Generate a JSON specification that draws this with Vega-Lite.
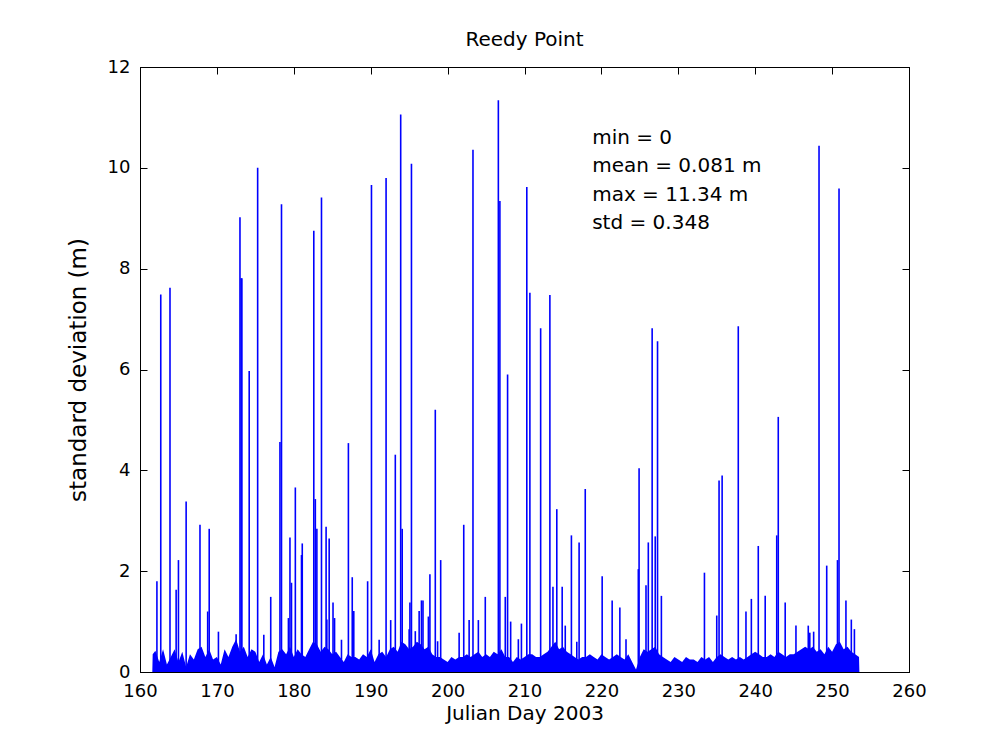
{
  "$schema": "https://vega.github.io/schema/vega-lite/v6.json",
  "width": 769,
  "height": 605,
  "autosize": "none",
  "padding": {"left": 140, "top": 67, "right": 88, "bottom": 80},
  "background": "white",
  "title": {"text": "Reedy Point", "font": "DejaVu Sans", "fontSize": 20, "fontWeight": "normal", "color": "black", "offset": 8},
  "config": {
    "view": {"stroke": "black", "strokeWidth": 1},
    "axis": {
      "domainColor": "black", "tickColor": "black", "labelColor": "black", "titleColor": "black",
      "labelFont": "DejaVu Sans", "titleFont": "DejaVu Sans", "labelFontSize": 18, "titleFontSize": 20,
      "titleFontWeight": "normal", "grid": false, "tickSize": -7, "labelPadding": 17, "labelFlush": false
    }
  },
  "datasets": {
    "base": [
      {"day": 161.6, "sd": 0.0}, {"day": 161.65, "sd": 0.35},
      {"day": 162.0, "sd": 0.42}, {"day": 162.5, "sd": 0.2}, {"day": 163.0, "sd": 0.45}, {"day": 163.5, "sd": 0.15},
      {"day": 164.0, "sd": 0.3}, {"day": 164.5, "sd": 0.45}, {"day": 165.0, "sd": 0.2}, {"day": 165.5, "sd": 0.4},
      {"day": 166.0, "sd": 0.1}, {"day": 166.5, "sd": 0.35}, {"day": 167.0, "sd": 0.25}, {"day": 167.5, "sd": 0.45},
      {"day": 168.0, "sd": 0.5}, {"day": 168.5, "sd": 0.3}, {"day": 169.0, "sd": 0.45}, {"day": 169.5, "sd": 0.25},
      {"day": 170.0, "sd": 0.3}, {"day": 170.5, "sd": 0.15}, {"day": 171.0, "sd": 0.45}, {"day": 171.5, "sd": 0.3},
      {"day": 172.0, "sd": 0.5}, {"day": 172.5, "sd": 0.65}, {"day": 173.0, "sd": 0.4}, {"day": 173.5, "sd": 0.5},
      {"day": 174.0, "sd": 0.3}, {"day": 174.5, "sd": 0.45}, {"day": 175.0, "sd": 0.4}, {"day": 175.5, "sd": 0.2},
      {"day": 176.0, "sd": 0.35}, {"day": 176.5, "sd": 0.15}, {"day": 177.0, "sd": 0.3}, {"day": 177.5, "sd": 0.1},
      {"day": 178.0, "sd": 0.4}, {"day": 178.5, "sd": 0.45}, {"day": 179.0, "sd": 0.35}, {"day": 179.5, "sd": 0.5},
      {"day": 180.0, "sd": 0.3}, {"day": 180.5, "sd": 0.45}, {"day": 181.0, "sd": 0.35}, {"day": 181.5, "sd": 0.3},
      {"day": 182.0, "sd": 0.45}, {"day": 182.5, "sd": 0.6}, {"day": 183.0, "sd": 0.55}, {"day": 183.5, "sd": 0.4},
      {"day": 184.0, "sd": 0.5}, {"day": 184.5, "sd": 0.45}, {"day": 185.0, "sd": 0.35}, {"day": 185.5, "sd": 0.4},
      {"day": 186.0, "sd": 0.3}, {"day": 186.5, "sd": 0.2}, {"day": 187.0, "sd": 0.35}, {"day": 187.5, "sd": 0.3},
      {"day": 188.0, "sd": 0.3}, {"day": 188.5, "sd": 0.25}, {"day": 189.0, "sd": 0.35}, {"day": 189.5, "sd": 0.3},
      {"day": 190.0, "sd": 0.45}, {"day": 190.5, "sd": 0.2}, {"day": 191.0, "sd": 0.35}, {"day": 191.5, "sd": 0.4},
      {"day": 192.0, "sd": 0.3}, {"day": 192.5, "sd": 0.45}, {"day": 193.0, "sd": 0.5}, {"day": 193.5, "sd": 0.4},
      {"day": 194.0, "sd": 0.6}, {"day": 194.5, "sd": 0.55}, {"day": 195.0, "sd": 0.45}, {"day": 195.5, "sd": 0.5},
      {"day": 196.0, "sd": 0.6}, {"day": 196.5, "sd": 0.55}, {"day": 197.0, "sd": 0.45}, {"day": 197.5, "sd": 0.5},
      {"day": 198.0, "sd": 0.35}, {"day": 198.5, "sd": 0.3}, {"day": 199.0, "sd": 0.3}, {"day": 199.5, "sd": 0.25},
      {"day": 200.0, "sd": 0.2}, {"day": 200.5, "sd": 0.3}, {"day": 201.0, "sd": 0.25}, {"day": 201.5, "sd": 0.3},
      {"day": 202.0, "sd": 0.3}, {"day": 202.5, "sd": 0.35}, {"day": 203.0, "sd": 0.3}, {"day": 203.5, "sd": 0.35},
      {"day": 204.0, "sd": 0.4}, {"day": 204.5, "sd": 0.3}, {"day": 205.0, "sd": 0.35}, {"day": 205.5, "sd": 0.3},
      {"day": 206.0, "sd": 0.4}, {"day": 206.5, "sd": 0.35}, {"day": 207.0, "sd": 0.45}, {"day": 207.5, "sd": 0.3},
      {"day": 208.0, "sd": 0.3}, {"day": 208.5, "sd": 0.2}, {"day": 209.0, "sd": 0.3}, {"day": 209.5, "sd": 0.25},
      {"day": 210.0, "sd": 0.3}, {"day": 210.5, "sd": 0.35}, {"day": 211.0, "sd": 0.35}, {"day": 211.5, "sd": 0.3},
      {"day": 212.0, "sd": 0.3}, {"day": 212.5, "sd": 0.35}, {"day": 213.0, "sd": 0.4}, {"day": 213.5, "sd": 0.5},
      {"day": 214.0, "sd": 0.6}, {"day": 214.5, "sd": 0.45}, {"day": 215.0, "sd": 0.5}, {"day": 215.5, "sd": 0.4},
      {"day": 216.0, "sd": 0.35}, {"day": 216.5, "sd": 0.3}, {"day": 217.0, "sd": 0.25}, {"day": 217.5, "sd": 0.3},
      {"day": 218.0, "sd": 0.3}, {"day": 218.5, "sd": 0.35}, {"day": 219.0, "sd": 0.3}, {"day": 219.5, "sd": 0.25},
      {"day": 220.0, "sd": 0.35}, {"day": 220.5, "sd": 0.3}, {"day": 221.0, "sd": 0.25}, {"day": 221.5, "sd": 0.3},
      {"day": 222.0, "sd": 0.35}, {"day": 222.5, "sd": 0.3}, {"day": 223.0, "sd": 0.25}, {"day": 223.5, "sd": 0.35},
      {"day": 224.0, "sd": 0.2}, {"day": 224.5, "sd": 0.05}, {"day": 225.0, "sd": 0.3}, {"day": 225.5, "sd": 0.45},
      {"day": 226.0, "sd": 0.4}, {"day": 226.5, "sd": 0.45}, {"day": 227.0, "sd": 0.5}, {"day": 227.5, "sd": 0.35},
      {"day": 228.0, "sd": 0.3}, {"day": 228.5, "sd": 0.25}, {"day": 229.0, "sd": 0.2}, {"day": 229.5, "sd": 0.3},
      {"day": 230.0, "sd": 0.25}, {"day": 230.5, "sd": 0.2}, {"day": 231.0, "sd": 0.3}, {"day": 231.5, "sd": 0.25},
      {"day": 232.0, "sd": 0.25}, {"day": 232.5, "sd": 0.2}, {"day": 233.0, "sd": 0.3}, {"day": 233.5, "sd": 0.25},
      {"day": 234.0, "sd": 0.3}, {"day": 234.5, "sd": 0.2}, {"day": 235.0, "sd": 0.3}, {"day": 235.5, "sd": 0.35},
      {"day": 236.0, "sd": 0.3}, {"day": 236.5, "sd": 0.25}, {"day": 237.0, "sd": 0.3}, {"day": 237.5, "sd": 0.25},
      {"day": 238.0, "sd": 0.3}, {"day": 238.5, "sd": 0.25}, {"day": 239.0, "sd": 0.3}, {"day": 239.5, "sd": 0.35},
      {"day": 240.0, "sd": 0.4}, {"day": 240.5, "sd": 0.35}, {"day": 241.0, "sd": 0.3}, {"day": 241.5, "sd": 0.3},
      {"day": 242.0, "sd": 0.35}, {"day": 242.5, "sd": 0.3}, {"day": 243.0, "sd": 0.4}, {"day": 243.5, "sd": 0.35},
      {"day": 244.0, "sd": 0.3}, {"day": 244.5, "sd": 0.35}, {"day": 245.0, "sd": 0.35}, {"day": 245.5, "sd": 0.4},
      {"day": 246.0, "sd": 0.45}, {"day": 246.5, "sd": 0.5}, {"day": 247.0, "sd": 0.45}, {"day": 247.5, "sd": 0.5},
      {"day": 248.0, "sd": 0.4}, {"day": 248.5, "sd": 0.45}, {"day": 249.0, "sd": 0.35}, {"day": 249.5, "sd": 0.5},
      {"day": 250.0, "sd": 0.4}, {"day": 250.5, "sd": 0.55}, {"day": 251.0, "sd": 0.6}, {"day": 251.5, "sd": 0.45},
      {"day": 252.0, "sd": 0.5}, {"day": 252.5, "sd": 0.4}, {"day": 253.0, "sd": 0.35}, {"day": 253.5, "sd": 0.3},
      {"day": 253.55, "sd": 0.0}
    ],
    "spikes": [
      {"day": 162.2, "sd": 1.8}, {"day": 162.7, "sd": 7.49}, {"day": 163.9, "sd": 7.62}, {"day": 164.7, "sd": 1.63},
      {"day": 165.0, "sd": 2.22}, {"day": 166.0, "sd": 3.38}, {"day": 167.8, "sd": 2.92}, {"day": 168.8, "sd": 1.2},
      {"day": 169.0, "sd": 2.84}, {"day": 170.2, "sd": 0.8}, {"day": 172.5, "sd": 0.75}, {"day": 173.0, "sd": 9.02},
      {"day": 173.15, "sd": 7.81}, {"day": 173.25, "sd": 7.81}, {"day": 174.2, "sd": 5.97}, {"day": 175.3, "sd": 10.0},
      {"day": 176.1, "sd": 0.74}, {"day": 177.0, "sd": 1.49}, {"day": 178.2, "sd": 4.56}, {"day": 178.4, "sd": 9.28},
      {"day": 179.3, "sd": 1.07}, {"day": 179.5, "sd": 2.67}, {"day": 179.7, "sd": 1.77}, {"day": 180.2, "sd": 3.66},
      {"day": 181.0, "sd": 2.32}, {"day": 181.1, "sd": 2.55}, {"day": 182.6, "sd": 8.75}, {"day": 182.8, "sd": 3.43},
      {"day": 183.0, "sd": 2.84}, {"day": 183.6, "sd": 9.41}, {"day": 184.2, "sd": 2.88}, {"day": 184.3, "sd": 1.04},
      {"day": 184.6, "sd": 2.65}, {"day": 185.1, "sd": 1.38}, {"day": 185.3, "sd": 1.07}, {"day": 186.2, "sd": 0.64},
      {"day": 187.1, "sd": 4.54}, {"day": 187.6, "sd": 1.88}, {"day": 187.8, "sd": 1.21}, {"day": 189.6, "sd": 1.8},
      {"day": 190.1, "sd": 9.66}, {"day": 191.1, "sd": 0.64}, {"day": 192.0, "sd": 9.8}, {"day": 192.6, "sd": 1.03},
      {"day": 193.2, "sd": 4.31}, {"day": 193.9, "sd": 11.06}, {"day": 194.1, "sd": 2.84}, {"day": 195.0, "sd": 0.85},
      {"day": 195.1, "sd": 1.38}, {"day": 195.3, "sd": 10.08}, {"day": 195.8, "sd": 0.81}, {"day": 196.3, "sd": 1.21},
      {"day": 196.6, "sd": 1.42}, {"day": 196.8, "sd": 1.42}, {"day": 197.5, "sd": 1.1}, {"day": 197.7, "sd": 1.94},
      {"day": 198.4, "sd": 5.2}, {"day": 198.7, "sd": 0.61}, {"day": 199.1, "sd": 2.22}, {"day": 201.5, "sd": 0.78},
      {"day": 202.1, "sd": 2.92}, {"day": 202.8, "sd": 1.03}, {"day": 203.3, "sd": 10.36}, {"day": 204.0, "sd": 1.03},
      {"day": 204.9, "sd": 1.49}, {"day": 206.6, "sd": 11.34}, {"day": 206.8, "sd": 9.34}, {"day": 207.5, "sd": 1.49},
      {"day": 207.8, "sd": 5.9}, {"day": 208.2, "sd": 1.0}, {"day": 209.2, "sd": 0.65}, {"day": 209.6, "sd": 0.96},
      {"day": 210.3, "sd": 9.62}, {"day": 210.7, "sd": 7.52}, {"day": 212.1, "sd": 6.82}, {"day": 213.3, "sd": 7.48},
      {"day": 213.7, "sd": 1.69}, {"day": 214.2, "sd": 3.23}, {"day": 214.9, "sd": 1.69}, {"day": 215.3, "sd": 0.92},
      {"day": 216.1, "sd": 2.71}, {"day": 216.8, "sd": 0.6}, {"day": 217.1, "sd": 2.57}, {"day": 217.9, "sd": 3.63},
      {"day": 220.1, "sd": 1.9}, {"day": 221.4, "sd": 1.42}, {"day": 222.4, "sd": 1.28}, {"day": 223.2, "sd": 0.65},
      {"day": 224.8, "sd": 2.04}, {"day": 224.9, "sd": 4.04}, {"day": 225.8, "sd": 1.72}, {"day": 226.1, "sd": 2.57},
      {"day": 226.6, "sd": 6.82}, {"day": 227.0, "sd": 2.69}, {"day": 227.3, "sd": 6.56}, {"day": 227.8, "sd": 1.51},
      {"day": 233.4, "sd": 1.97}, {"day": 235.0, "sd": 1.12}, {"day": 235.3, "sd": 3.8}, {"day": 235.7, "sd": 3.9},
      {"day": 237.8, "sd": 6.86}, {"day": 238.8, "sd": 1.2}, {"day": 239.5, "sd": 1.45}, {"day": 240.4, "sd": 2.5},
      {"day": 241.3, "sd": 1.51}, {"day": 242.8, "sd": 2.71}, {"day": 243.0, "sd": 5.06}, {"day": 243.9, "sd": 1.38},
      {"day": 245.3, "sd": 0.92}, {"day": 246.9, "sd": 0.92}, {"day": 247.1, "sd": 0.78}, {"day": 247.6, "sd": 0.8},
      {"day": 248.3, "sd": 10.44}, {"day": 249.3, "sd": 2.11}, {"day": 250.7, "sd": 2.22}, {"day": 250.9, "sd": 9.59},
      {"day": 251.8, "sd": 1.42}, {"day": 252.5, "sd": 1.04}, {"day": 252.9, "sd": 0.85}
    ]
  },
  "layer": [
    {
      "data": {"name": "base"},
      "mark": {"type": "area", "color": "#0000ff", "interpolate": "linear"},
      "encoding": {
        "x": {"field": "day", "type": "quantitative", "scale": {"domain": [160, 260], "nice": false, "zero": false},
              "axis": {"orient": "bottom", "values": [160, 170, 180, 190, 200, 210, 220, 230, 240, 250, 260], "title": "Julian Day 2003", "titlePadding": 3}},
        "y": {"field": "sd", "type": "quantitative", "scale": {"domain": [0, 12], "nice": false},
              "axis": {"orient": "left", "values": [0, 2, 4, 6, 8, 10, 12], "title": "standard deviation (m)", "titleFontSize": 23, "titlePadding": 17}}
      }
    },
    {
      "data": {"name": "spikes"},
      "mark": {"type": "rule", "color": "#0000ff", "strokeWidth": 1.6},
      "encoding": {
        "x": {"field": "day", "type": "quantitative", "scale": {"domain": [160, 260], "nice": false, "zero": false},
              "axis": {"orient": "top", "values": [160, 170, 180, 190, 200, 210, 220, 230, 240, 250, 260], "labels": false, "title": null}},
        "y": {"field": "sd", "type": "quantitative", "scale": {"domain": [0, 12], "nice": false},
              "axis": {"orient": "right", "values": [0, 2, 4, 6, 8, 10, 12], "labels": false, "title": null}},
        "y2": {"datum": 0}
      }
    },
    {
      "data": {"values": [{"lines": ["min = 0", "mean = 0.081 m", "max = 11.34 m", "std = 0.348"]}]},
      "mark": {"type": "text", "align": "left", "baseline": "top", "font": "DejaVu Sans", "fontSize": 20, "lineHeight": 28.5, "color": "black"},
      "encoding": {
        "x": {"datum": 218.8, "type": "quantitative", "axis": null},
        "y": {"datum": 10.8, "type": "quantitative", "axis": null},
        "text": {"field": "lines"}
      }
    }
  ],
  "resolve": {"axis": {"x": "independent", "y": "independent"}}
}
